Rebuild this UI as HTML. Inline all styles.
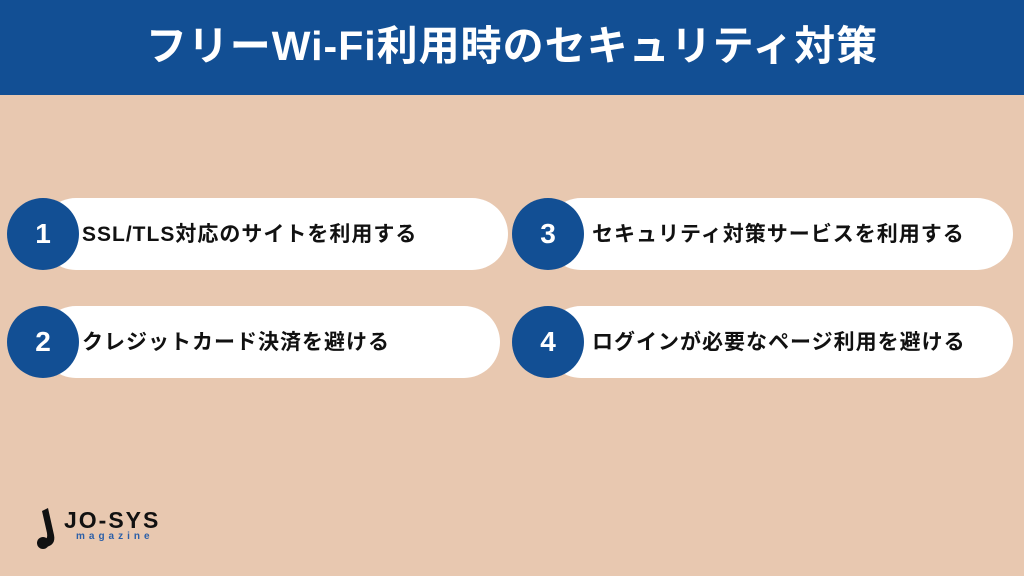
<!DOCTYPE html>
<html><head><meta charset="utf-8"><style>
body{margin:0;width:1024px;height:576px;background:#e8c8b0;position:relative;overflow:hidden;font-family:"Liberation Sans","Noto Sans CJK JP",sans-serif;}
.hd{position:absolute;left:0;top:0;width:1024px;height:95px;background:#124f94;color:#fff;font-weight:bold;font-size:41px;letter-spacing:1px;text-align:center;line-height:92px;}
.pill{position:absolute;height:72px;background:#fff;border-radius:36px;}
.c{position:absolute;width:72px;height:72px;border-radius:50%;background:#124f94;color:#fff;font-weight:bold;font-size:28px;text-align:center;line-height:72px;}
.t{position:absolute;font-weight:bold;font-size:21px;letter-spacing:1px;color:#111;line-height:74px;white-space:nowrap;}
</style></head><body>
<div class="hd">フリーWi-Fi利用時のセキュリティ対策</div>
<div class="pill" style="left:40px;top:198px;width:468px"></div>
<div class="c" style="left:7px;top:198px">1</div>
<div class="t" style="left:82px;top:198px">SSL/TLS対応のサイトを利用する</div>
<div class="pill" style="left:40px;top:306px;width:460px"></div>
<div class="c" style="left:7px;top:306px">2</div>
<div class="t" style="left:82px;top:306px">クレジットカード決済を避ける</div>
<div class="pill" style="left:545px;top:198px;width:468px"></div>
<div class="c" style="left:512px;top:198px">3</div>
<div class="t" style="left:592px;top:198px">セキュリティ対策サービスを利用する</div>
<div class="pill" style="left:545px;top:306px;width:468px"></div>
<div class="c" style="left:512px;top:306px">4</div>
<div class="t" style="left:592px;top:306px">ログインが必要なページ利用を避ける</div>
<svg style="position:absolute;left:34px;top:505px" width="30" height="50"><path d="M8 6 L14 3 L20 30 Q22 40 12 42 L10 36 Q14 34 13 28 Z" fill="#111"/><circle cx="9" cy="38" r="6" fill="#111"/></svg>
<div style="position:absolute;left:64px;top:507px;font-weight:bold;font-size:23px;letter-spacing:2px;color:#111">JO-SYS</div>
<div style="position:absolute;left:76px;top:531px;font-size:10px;letter-spacing:4px;color:#2b5fa8;font-weight:bold">magazine</div>
</body></html>
